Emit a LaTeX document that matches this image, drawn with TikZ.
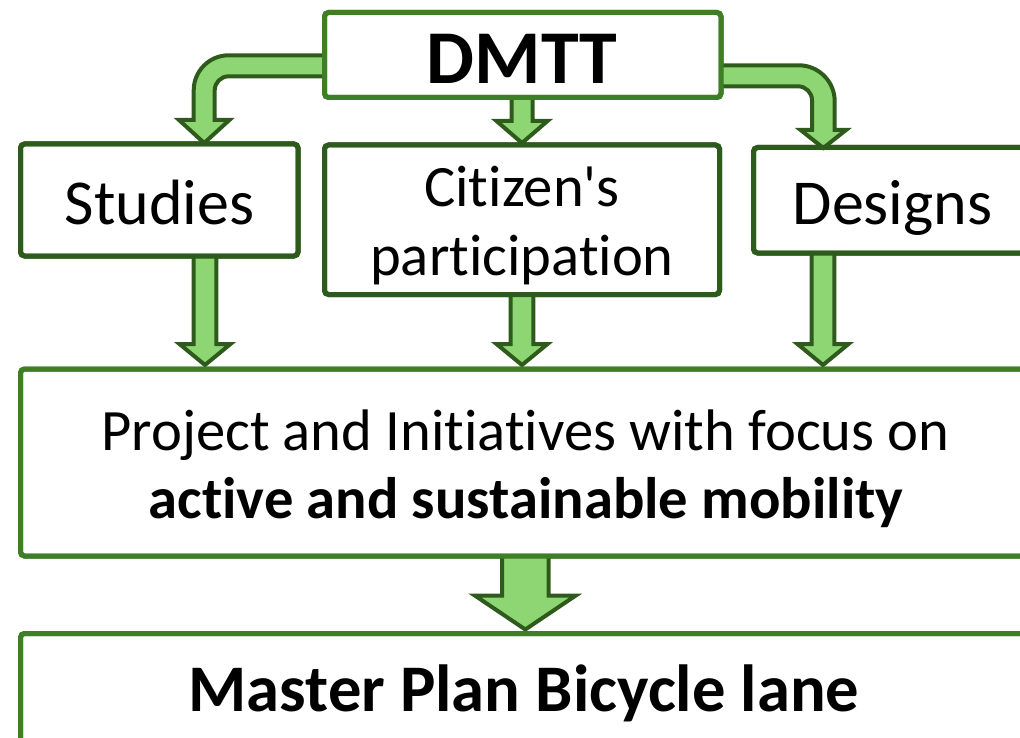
\documentclass[tikz,border=0pt]{standalone}
\usepackage{fontspec}
\setmainfont{Carlito}[Ligatures={NoCommon,TeXOff}]
\usetikzlibrary{calc}
\definecolor{boxdark}{HTML}{2D5B1B}
\definecolor{boxlight}{HTML}{3E7E27}
\definecolor{arrfill}{HTML}{8ED674}
\definecolor{arrline}{HTML}{2E5A1C}
\tikzset{
  boxd/.style={draw=boxdark, line width=5pt, rounded corners=4pt, inner sep=0pt, outer sep=0pt, anchor=north west},
  boxl/.style={boxd, draw=boxlight},
  blk/.style={draw=arrline, fill=arrfill, line width=4pt, line join=miter, miter limit=10},
  txt/.style={anchor=base, inner sep=0pt, font=\fontsize{58.6}{64}\selectfont},
  btxt/.style={txt, font=\bfseries\fontsize{58.6}{64}\selectfont},
}
\newcommand\vblock[7]{%
  \draw[blk] let \p1=(#1,0 |- #2.south), \p2=(#1,0 |- #3.north) in
    (\x1-#4pt,\y1) -- (\x1-#4pt,\y2+#6pt+#7pt) -- (\x1-#5pt,\y2+#6pt+#7pt) -- (\x1,\y2+#7pt)
    -- (\x1+#5pt,\y2+#6pt+#7pt) -- (\x1+#4pt,\y2+#6pt+#7pt) -- (\x1+#4pt,\y1) -- cycle;}
\begin{document}
\begin{tikzpicture}[x=1pt,y=-1pt]
\useasboundingbox (0,0) rectangle (1020,738);
\clip (0,0) rectangle (1020,738);
% boxes (shapes)
\node[boxl, minimum width=396.5pt, minimum height=85pt] (dmtt) at (324.5,12.5) {};
\node[boxd, minimum width=277.5pt, minimum height=112pt] (studies) at (20.5,144) {};
\node[boxd, minimum width=395pt, minimum height=149.5pt] (citizen) at (324.5,145) {};
\node[boxd, minimum width=306.5pt, minimum height=105.5pt] (designs) at (753.5,147.5) {};
\node[boxl, minimum width=1039.5pt, minimum height=187pt] (project) at (20.5,369) {};
\node[boxl, minimum width=1039.5pt, minimum height=146.5pt] (master) at (20.5,633.5) {};
% curved arrows
\draw[blk] (dmtt.west |- 0,55.3) -- (228.7,55.3) arc[start angle=-90, end angle=-180, radius=35]
  -- (193.7,120) -- (179,120) -- (204.2,143) -- (229.4,120) -- (214.7,120) -- (214.7,90.3)
  arc[start angle=-180, end angle=-90, radius=14] -- (dmtt.west |- 0,76.3) -- cycle;
\draw[blk] (dmtt.east |- 0,65.3) -- (798.7,65.3) arc[start angle=-90, end angle=0, radius=36]
  -- (834.7,130) -- (846,130) -- (823.3,148) -- (800.6,130) -- (812,130) -- (812,100.3)
  arc[start angle=0, end angle=-90, radius=14] -- (dmtt.east |- 0,86.3) -- cycle;
% straight arrows
\vblock{522}{dmtt}{citizen}{10.5}{25.5}{22}{2}
\vblock{205}{studies}{project}{11.3}{25.5}{21}{4}
\vblock{522}{citizen}{project}{11.3}{25.5}{21}{4}
\vblock{823}{designs}{project}{11.3}{25.5}{21}{4}
\vblock{525.3}{project}{master}{23.3}{50.5}{34}{4}
% redraw box borders on top
\node[boxl, minimum width=396.5pt, minimum height=85pt] at (324.5,12.5) {};
\node[boxd, minimum width=277.5pt, minimum height=112pt] at (20.5,144) {};
\node[boxd, minimum width=395pt, minimum height=149.5pt] at (324.5,145) {};
\node[boxd, minimum width=306.5pt, minimum height=105.5pt] at (753.5,147.5) {};
\node[boxl, minimum width=1039.5pt, minimum height=187pt] at (20.5,369) {};
\node[boxl, minimum width=1039.5pt, minimum height=146.5pt] at (20.5,633.5) {};
% texts
\node[btxt, font=\bfseries\fontsize{76}{80}\selectfont] (tdmtt) at (522,84) {DMTT};
\node[txt, font=\fontsize{64}{70}\selectfont] (tstudies) at (159.5,225) {Studies};
\node[txt] (tcit1) at (522,207) {Citizen's};
\node[txt] (tcit2) at (522,275) {participation};
\node[txt, font=\fontsize{64}{70}\selectfont] (tdesigns) at (892.5,225) {Designs};
\node[txt] (tproj1) at (525.5,450) {Project and Initiatives with focus on};
\node[btxt] (tproj2) at (526,518) {active and sustainable mobility};
\node[btxt, font=\bfseries\fontsize{66.6}{70}\selectfont] (tmaster) at (524,711) {Master Plan Bicycle lane};
\end{tikzpicture}
\end{document}
